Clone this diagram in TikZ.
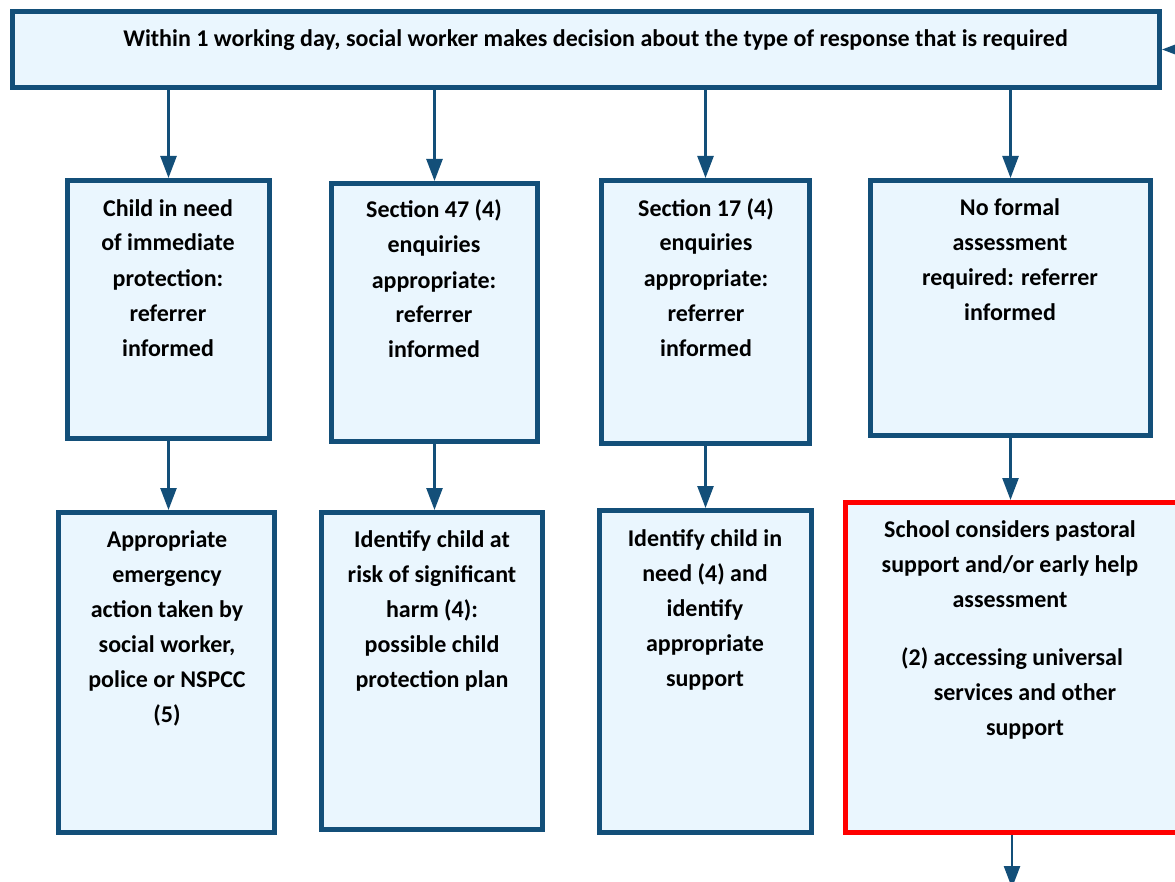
\documentclass[tikz,border=0pt]{standalone}
\usepackage{fontspec}
\setmainfont{Carlito}
\usetikzlibrary{arrows.meta}
\definecolor{bdr}{HTML}{134F79}
\definecolor{fillb}{HTML}{EAF6FE}
\definecolor{redb}{HTML}{FF0000}
\begin{document}
\begin{tikzpicture}[x=1pt,y=-1pt,
  box/.style={draw=bdr, fill=fillb, line width=5pt, inner sep=0pt},
  redbox/.style={draw=redb, fill=fillb, line width=5pt, inner sep=0pt},
  txt/.style={font=\fontsize{24}{35}\selectfont\bfseries, align=center, inner sep=0pt, anchor=base},
  toptxt/.style={font=\fontsize{24}{28}\selectfont\bfseries, inner sep=0pt, anchor=base},
  arr/.style={draw=bdr, line width=2.5pt, -{Triangle[width=16pt,length=22pt]}}]
\useasboundingbox (0,0) rectangle (1175,882);
% boxes
\node[box, minimum width=1147pt, minimum height=76pt] (top) at (586,49.5) {};
\node[box, minimum width=202pt, minimum height=258pt] (b1) at (168.5,309.5) {};
\node[box, minimum width=206pt, minimum height=258pt] (b2) at (434.5,312.5) {};
\node[box, minimum width=208pt, minimum height=263pt] (b3) at (705.5,312) {};
\node[box, minimum width=280pt, minimum height=255pt] (b4) at (1010.5,308) {};
\node[box, minimum width=216pt, minimum height=320pt] (b5) at (166.5,672.5) {};
\node[box, minimum width=221pt, minimum height=317pt] (b6) at (432,671) {};
\node[box, minimum width=212pt, minimum height=322pt] (b7) at (705.5,671.5) {};
\node[redbox, minimum width=337pt, minimum height=330pt] (b8) at (1014,667.5) {};
% texts (base anchor = baseline of the last line)
\node[toptxt] (ttop) at (595.5,47) {Within 1 working day, social worker makes decision about the type of response that is required};
\node[txt] (t1) at (168,356) {Child in need\\of immediate\\protection:\\referrer\\informed};
\node[txt] (t2) at (434,358) {Section 47 (4)\\enquiries\\appropriate:\\referrer\\informed};
\node[txt] (t3) at (706,356) {Section 17 (4)\\enquiries\\appropriate:\\referrer\\informed};
\node[txt] (t4) at (1010,321) {No formal\\assessment\\required: referrer\\informed};
\node[txt] (t5) at (167,722) {Appropriate\\emergency\\action taken by\\social worker,\\police or NSPCC\\(5)};
\node[txt] (t6) at (432,687) {Identify child at\\risk of significant\\harm (4):\\possible child\\protection plan};
\node[txt] (t7) at (705,686) {Identify child in\\need (4) and\\identify\\appropriate\\support};
\node[txt] (t8) at (1010,607) {School considers pastoral\\support and/or early help\\assessment};
\node[txt] (t9) at (1025,735) {(2) accessing universal\hspace*{26pt}\\services and other\\support};
% connectors
\coordinate (rin) at (1200,49.5);
\coordinate (bout) at (1012,888);
\draw[arr] (rin) -- (top.east);
\draw[arr] (top.south -| b1.north) -- (b1.north);
\draw[arr] (top.south -| b2.north) -- (b2.north);
\draw[arr] (top.south -| b3.north) -- (b3.north);
\draw[arr] (top.south -| b4.north) -- (b4.north);
\draw[arr] (b1.south) -- (b5.north -| b1.south);
\draw[arr] (b2.south) -- (b6.north -| b2.south);
\draw[arr] (b3.south) -- (b7.north -| b3.south);
\draw[arr] (b4.south) -- (b8.north -| b4.south);
\draw[arr] (b8.south -| bout) -- (bout);
\end{tikzpicture}
\end{document}
